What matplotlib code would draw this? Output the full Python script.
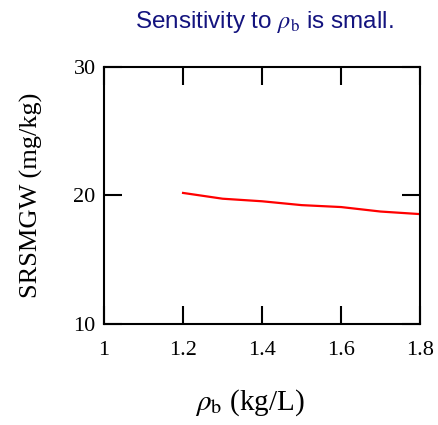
import matplotlib
matplotlib.use("Agg")
import matplotlib.pyplot as plt

rho_b = [1.2, 1.3, 1.4, 1.5, 1.6, 1.7, 1.8]
srsmgw = [20.2, 19.75, 19.55, 19.25, 19.1, 18.75, 18.55]

plt.rcParams["font.family"] = "Liberation Serif"
plt.rcParams["mathtext.fontset"] = "stix"

fig = plt.figure(figsize=(4.39, 4.25), dpi=100)
ax = fig.add_axes([0.237, 0.238, 0.72, 0.604])

ax.plot(rho_b, srsmgw, color="red", lw=1.6)
ax.set_xlim(1, 1.8)
ax.set_ylim(10, 30)
ax.set_xticks([1, 1.2, 1.4, 1.6, 1.8])
ax.set_xticklabels(["1", "1.2", "1.4", "1.6", "1.8"])
ax.set_yticks([10, 20, 30])
ax.tick_params(direction="in", length=13, width=1.5, top=True, right=True,
               labelsize=16, pad=6)
ax.tick_params(axis="x", pad=12)
for s in ax.spines.values():
    s.set_linewidth(1.5)

ax.set_ylabel("SRSMGW (mg/kg)", fontsize=19, labelpad=22)
ax.set_xlabel(r"$\rho_\mathrm{b}$ (kg/L)", fontsize=21, labelpad=20)
ax.xaxis.label.set_x(0.46)

fig.text(0.603, 0.948, r"Sensitivity to $\rho_\mathrm{b}$ is small.",
         family="Liberation Sans", fontsize=17.5, color="#14147f",
         ha="center", va="center")

fig.savefig("out.png", dpi=100)
